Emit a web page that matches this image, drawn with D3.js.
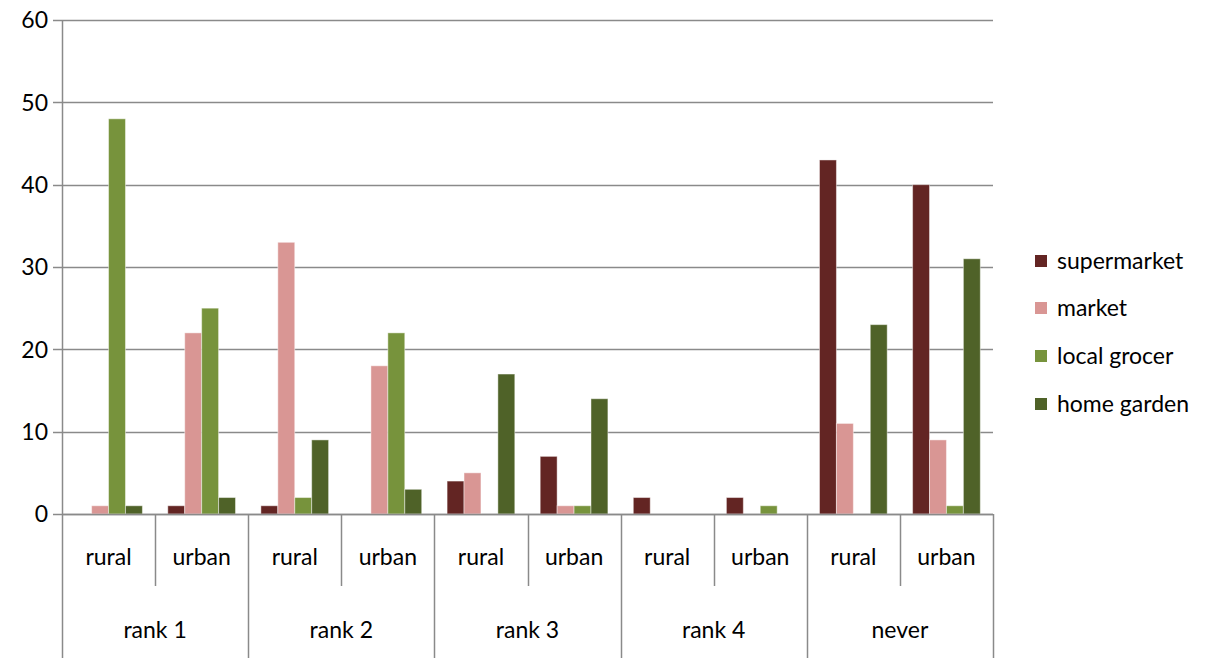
<!DOCTYPE html>
<html>
<head>
<meta charset="utf-8">
<script src="https://cdn.jsdelivr.net/npm/d3@7/dist/d3.min.js"></script>
<style>
  html, body { margin: 0; padding: 0; background: #fff; }
  svg { display: block; font-family: Lato, "Open Sans", sans-serif; }
</style>
</head>
<body>
<svg id="chart" width="1209" height="658"></svg>
<script>
// Rank groups and the sub-categories within each
const ranks = ["rank 1", "rank 2", "rank 3", "rank 4", "never"];
const areas = ["rural", "urban"];
const seriesNames = ["supermarket", "market", "local grocer", "home garden"];
const seriesColors = ["#632523", "#D99694", "#77933C", "#4F6228"];
const yTicks = [0, 10, 20, 30, 40, 50, 60];

// Values per series, ordered rank1 rural, rank1 urban, rank2 rural, ...
const supermarket = [0, 1, 1, 0, 4, 7, 2, 2, 43, 40];
const market      = [1, 22, 33, 18, 5, 1, 0, 0, 11, 9];
const localGrocer = [48, 25, 2, 22, 0, 1, 0, 1, 0, 1];
const homeGarden  = [1, 2, 9, 3, 17, 14, 0, 0, 23, 31];

const seriesValues = [supermarket, market, localGrocer, homeGarden];

const cats = [];
ranks.forEach(r => areas.forEach(a => cats.push(r + "|" + a)));

const svg = d3.select("#chart");
const plotLeft = 62, plotRight = 993, plotTop = 20, plotBottom = 514;
const fontSize = 23;

const x0 = d3.scaleBand().domain(cats).range([plotLeft, plotRight]).padding(0);
const x1 = d3.scaleBand().domain(seriesNames).range([0, x0.bandwidth()])
  .paddingInner(0).paddingOuter(0.75);
const y = d3.scaleLinear().domain([0, 60]).range([plotBottom, plotTop]);

const gridColor = "#8a8a8a";

// Horizontal gridlines with short ticks on the left
const grid = svg.append("g");
grid.selectAll("line").data(yTicks).join("line")
  .attr("x1", plotLeft - 9).attr("x2", plotRight)
  .attr("y1", d => Math.round(y(d)) + 0.5).attr("y2", d => Math.round(y(d)) + 0.5)
  .attr("stroke", gridColor).attr("stroke-width", 1.5);

grid.selectAll("text").data(yTicks).join("text")
  .attr("x", plotLeft - 14).attr("y", d => y(d))
  .attr("dy", "0.36em").attr("text-anchor", "end")
  .attr("font-size", fontSize).attr("fill", "#000")
  .text(d => d);

// Bars
const barG = svg.append("g");
seriesNames.forEach((s, si) => {
  barG.append("g").selectAll("rect")
    .data(seriesValues[si].map((v, i) => ({ cat: cats[i], v })))
    .join("rect")
    .attr("x", d => x0(d.cat) + x1(s))
    .attr("width", x1.bandwidth())
    .attr("y", d => y(d.v))
    .attr("height", d => y(0) - y(d.v))
    .attr("fill", seriesColors[si])
    .attr("stroke", "rgba(255,255,255,0.45)")
    .attr("stroke-width", 1);
});

// Axis lines
const axisG = svg.append("g");
axisG.append("line")
  .attr("x1", plotLeft + 0.5).attr("x2", plotLeft + 0.5)
  .attr("y1", plotTop).attr("y2", 658)
  .attr("stroke", gridColor).attr("stroke-width", 1.5);
axisG.append("line")
  .attr("x1", plotLeft).attr("x2", plotRight)
  .attr("y1", Math.round(y(0)) + 0.5).attr("y2", Math.round(y(0)) + 0.5)
  .attr("stroke", gridColor).attr("stroke-width", 1.5);

// Category separators: short ones between areas, long ones between ranks
const bounds = d3.range(cats.length + 1).map(i => i === cats.length ? plotRight : x0(cats[i]));
bounds.forEach((bx, i) => {
  if (i === 0) return;
  const major = i % areas.length === 0;
  axisG.append("line")
    .attr("x1", Math.round(bx) + 0.5).attr("x2", Math.round(bx) + 0.5)
    .attr("y1", plotBottom).attr("y2", major ? 658 : 586)
    .attr("stroke", gridColor).attr("stroke-width", 1.5);
});

// Area labels
axisG.append("g").selectAll("text").data(cats).join("text")
  .attr("x", d => x0(d) + x0.bandwidth() / 2)
  .attr("y", 557).attr("dy", "0.36em")
  .attr("text-anchor", "middle").attr("font-size", fontSize).attr("fill", "#000")
  .text(d => d.split("|")[1]);

// Rank labels
axisG.append("g").selectAll("text").data(ranks).join("text")
  .attr("x", r => x0(r + "|" + areas[0]) + x0.bandwidth())
  .attr("y", 630).attr("dy", "0.36em")
  .attr("text-anchor", "middle").attr("font-size", fontSize).attr("fill", "#000")
  .text(r => r);

// Legend
const legend = svg.append("g");
const legY = [261, 308, 356, 404];
seriesNames.forEach((s, i) => {
  legend.append("rect")
    .attr("x", 1035).attr("y", legY[i] - 6).attr("width", 12).attr("height", 12)
    .attr("fill", seriesColors[i]);
  legend.append("text")
    .attr("x", 1057).attr("y", legY[i]).attr("dy", "0.36em")
    .attr("font-size", fontSize).attr("fill", "#000")
    .text(s);
});
</script>
</body>
</html>
